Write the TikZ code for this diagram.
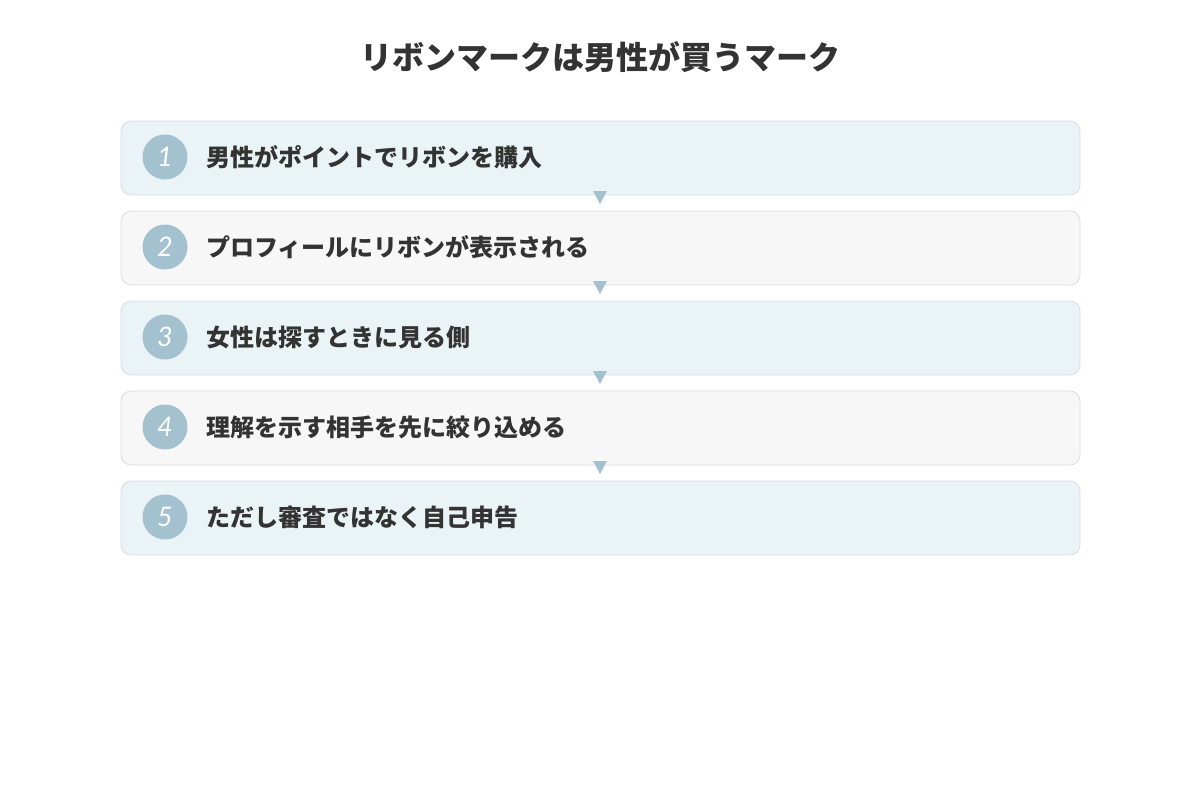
\documentclass[tikz,border=0pt]{standalone}
\usepackage{fontspec}
\newfontfamily\jpfont{Noto Sans CJK JP}
\newfontfamily\latof{Lato}
\definecolor{txt}{HTML}{333333}
\definecolor{bluebg}{HTML}{EAF3F6}
\definecolor{graybg}{HTML}{F7F7F7}
\definecolor{bord}{HTML}{D9DEE2}
\definecolor{accent}{HTML}{A3C1CF}
\tikzset{
  stepbox/.style={draw=bord, line width=0.8pt, rounded corners=10pt},
  numcirc/.style={circle, fill=accent, minimum size=45pt, inner sep=0pt, text=white, font=\latof\itshape\fontsize{27}{27}\selectfont},
  steptext/.style={anchor=west, text=txt, inner sep=0pt, font=\jpfont\bfseries\fontsize{24}{28}\selectfont},
  arrowtri/.style={fill=accent, draw=none},
}
\begin{document}
\begin{tikzpicture}[x=1pt,y=-1pt]
\useasboundingbox (0,0) rectangle (1200,800);
\node[text=txt, font=\jpfont\bfseries\fontsize{32}{38}\selectfont] (title) at (600,57) {リボンマークは男性が買うマーク};
\foreach \i/\col/\lab in {1/bluebg/男性がポイントでリボンを購入,2/graybg/プロフィールにリボンが表示される,3/bluebg/女性は探すときに見る側,4/graybg/理解を示す相手を先に絞り込める,5/bluebg/ただし審査ではなく自己申告}{
  \pgfmathsetmacro{\top}{121+90*(\i-1)}
  \draw[stepbox, fill=\col] (121,\top) rectangle (1080,\top+74);
  \node[numcirc] (c\i) at (165,\top+36) {\i};
  \node[steptext] (t\i) at (206,\top+36) {\lab};
}
\foreach \i in {1,2,3,4}{
  \pgfmathsetmacro{\yy}{191+90*(\i-1)}
  \fill[arrowtri] (593,\yy) -- (607,\yy) -- (600,\yy+13) -- cycle;
}
\end{tikzpicture}
\end{document}
